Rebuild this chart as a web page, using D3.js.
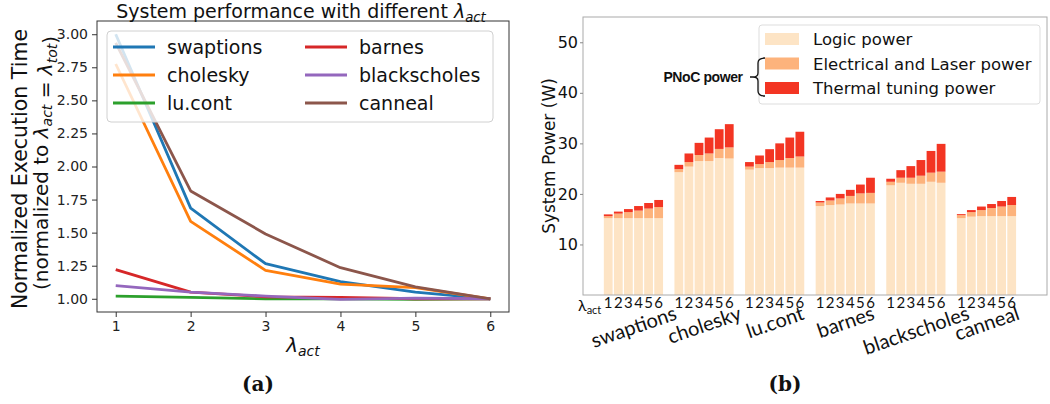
<!DOCTYPE html>
<html><head><meta charset="utf-8">
<script src="https://cdn.jsdelivr.net/npm/d3@7/dist/d3.min.js"></script>
<style>body{margin:0;background:#fff}svg{display:block}</style>
</head><body><svg id="c" width="1050" height="404"></svg>
<script>
// ---------- data: panel (a) ----------
const lambdaValues = [1, 2, 3, 4, 5, 6];
const seriesNames = ["swaptions", "cholesky", "lu.cont", "barnes", "blackscholes", "canneal"];
const swaptions    = [3.00, 1.685, 1.265, 1.13, 1.05, 1.00];
const cholesky     = [2.775, 1.585, 1.215, 1.11, 1.085, 1.00];
const luCont       = [1.02, 1.01, 1.00, 1.00, 0.995, 1.00];
const barnes       = [1.22, 1.05, 1.015, 1.01, 1.00, 1.00];
const blackscholes = [1.10, 1.05, 1.02, 0.995, 1.005, 1.00];
const canneal      = [2.935, 1.815, 1.49, 1.235, 1.09, 1.00];
const lineColors = ["#1f77b4", "#ff7f0e", "#2ca02c", "#d62728", "#9467bd", "#8c564b"];
const perfYTicks = [1.00, 1.25, 1.50, 1.75, 2.00, 2.25, 2.50, 2.75, 3.00];

// ---------- data: panel (b) ----------
const benchmarks = ["swaptions", "cholesky", "lu.cont", "barnes", "blackscholes", "canneal"];
const logicPower = [
  [15.2, 15.2, 15.2, 15.2, 15.2, 15.2],
  [24.3, 25.4, 26.5, 26.5, 27.1, 27.0],
  [24.8, 25.1, 25.1, 25.2, 25.2, 25.2],
  [17.6, 17.8, 17.9, 18.1, 18.1, 18.1],
  [21.7, 22.2, 22.0, 22.0, 22.4, 22.2],
  [15.2, 15.5, 15.6, 15.6, 15.6, 15.6]
];
const electricalPower = [
  [0.4, 0.9, 1.2, 1.5, 1.9, 2.2],
  [0.6, 0.9, 1.2, 1.5, 1.8, 2.2],
  [0.6, 0.8, 1.2, 1.5, 1.9, 2.2],
  [0.7, 0.9, 1.2, 1.5, 2.0, 2.1],
  [0.7, 1.0, 1.2, 1.6, 1.8, 2.2],
  [0.6, 0.9, 1.2, 1.6, 1.9, 2.2]
];
const thermalPower = [
  [0.35, 0.4, 0.6, 0.9, 1.1, 1.4],
  [0.85, 1.7, 2.4, 3.15, 3.9, 4.6],
  [0.9, 1.7, 2.55, 3.3, 4.05, 4.9],
  [0.3, 0.6, 0.9, 1.2, 1.75, 3.0],
  [0.6, 1.5, 2.3, 3.1, 4.3, 5.5],
  [0.2, 0.4, 0.7, 0.8, 1.1, 1.6]
];
const powerLegend = ["Logic power", "Electrical and Laser power", "Thermal tuning power"];
const powerColors = ["#fde4c5", "#fdb37c", "#f33523"];
const powerYTicks = [10, 20, 30, 40, 50];
const lambdaLabels = ["1", "2", "3", "4", "5", "6"];

const svg = d3.select("#c");
const DJ = "DejaVu Sans";

function mathLambda(t, sub, size) {
  t.append("tspan").attr("font-style", "italic").text("λ");
  t.append("tspan").attr("font-style", "italic").attr("font-size", size * 0.7)
    .attr("dy", size * 0.22).text(sub);
  t.append("tspan").attr("dy", -size * 0.22).text("");
}

// ================= Panel (a) =================
{
  const L = 97, R = 509, T = 21, B = 312;
  const x = d3.scaleLinear().domain([0.75, 6.25]).range([L, R]);
  const y = d3.scaleLinear().domain([0.9, 3.1]).range([B, T]);
  const g = svg.append("g");
  const series = [swaptions, cholesky, luCont, barnes, blackscholes, canneal];

  const line = d3.line().x((d, i) => x(lambdaValues[i])).y(d => y(d));
  series.forEach((s, i) => {
    g.append("path").datum(s).attr("d", line).attr("fill", "none")
      .attr("stroke", lineColors[i]).attr("stroke-width", 2.8)
      .attr("stroke-linejoin", "round");
  });

  g.append("rect").attr("x", L).attr("y", T).attr("width", R - L).attr("height", B - T)
    .attr("fill", "none").attr("stroke", "#333").attr("stroke-width", 1);

  const ax = g.append("g").attr("transform", `translate(0,${B})`)
    .call(d3.axisBottom(x).tickValues(lambdaValues).tickFormat(d3.format("d")).tickSize(5).tickPadding(4));
  const ay = g.append("g").attr("transform", `translate(${L},0)`)
    .call(d3.axisLeft(y).tickValues(perfYTicks).tickFormat(d3.format(".2f")).tickSize(5).tickPadding(4));
  [ax, ay].forEach(a => {
    a.select(".domain").remove();
    a.selectAll("text").attr("font-family", DJ).attr("font-size", 14).attr("fill", "#222");
    a.selectAll("line").attr("stroke", "#333");
  });

  const tt = g.append("text").attr("x", (L + R) / 2 - 2).attr("y", 17.5).attr("text-anchor", "middle")
    .attr("font-family", DJ).attr("font-size", 19).attr("fill", "#111");
  tt.append("tspan").text("System performance with different ");
  mathLambda(tt, "act", 19);

  const xl = g.append("text").attr("x", (L + R) / 2).attr("y", 352).attr("text-anchor", "middle")
    .attr("font-family", DJ).attr("font-size", 20).attr("fill", "#111");
  mathLambda(xl, "act", 20);

  g.append("text").attr("transform", `translate(27,169) rotate(-90)`).attr("text-anchor", "middle")
    .attr("font-family", DJ).attr("font-size", 20.5).attr("fill", "#111").text("Normalized Execution Time");
  const yl2 = g.append("text").attr("transform", `translate(48,163) rotate(-90)`).attr("text-anchor", "middle")
    .attr("font-family", DJ).attr("font-size", 20).attr("fill", "#111");
  yl2.append("tspan").text("(normalized to ");
  mathLambda(yl2, "act", 20);
  yl2.append("tspan").text(" = ");
  mathLambda(yl2, "tot", 20);
  yl2.append("tspan").text(")");

  const lg = g.append("g");
  lg.append("rect").attr("x", 107).attr("y", 31).attr("width", 386).attr("height", 91).attr("rx", 4)
    .attr("fill", "#fff").attr("fill-opacity", 0.8).attr("stroke", "#d0d0d0");
  seriesNames.forEach((n, i) => {
    const col = Math.floor(i / 3), row = i % 3;
    const lx = col === 0 ? 113 : 305, ly = 47 + row * 28;
    lg.append("line").attr("x1", lx).attr("x2", lx + 42).attr("y1", ly).attr("y2", ly)
      .attr("stroke", lineColors[i]).attr("stroke-width", 2.8);
    lg.append("text").attr("x", lx + 54).attr("y", ly + 6.5).attr("font-family", DJ).attr("font-size", 19)
      .attr("fill", "#111").text(n);
  });

  g.append("text").attr("x", 258).attr("y", 391).attr("text-anchor", "middle")
    .attr("font-family", "DejaVu Serif").attr("font-weight", "bold").attr("font-size", 20).attr("fill", "#111").text("(a)");
}

// ================= Panel (b) =================
{
  const L = 583, R = 1047, T = 17, B = 295;
  const x = d3.scaleLinear().domain([-2.5, 43.5]).range([L, R]);
  const y = d3.scaleLinear().domain([0, 55]).range([B, T]);
  const g = svg.append("g");

  const rows = [];
  benchmarks.forEach((b, gi) => {
    for (let k = 0; k < 6; k++) {
      rows.push({ bench: b, pos: gi * 7 + k, lam: lambdaLabels[k],
        logic: logicPower[gi][k], elec: electricalPower[gi][k], therm: thermalPower[gi][k] });
    }
  });
  const stack = d3.stack().keys(["logic", "elec", "therm"])(rows);
  const bw = 0.87;
  stack.forEach((layer, li) => {
    g.append("g").selectAll("rect").data(layer).join("rect")
      .attr("x", d => x(d.data.pos - bw / 2)).attr("width", x(bw) - x(0))
      .attr("y", d => y(d[1])).attr("height", d => y(d[0]) - y(d[1]))
      .attr("fill", powerColors[li]);
  });

  g.append("rect").attr("x", L).attr("y", T).attr("width", R - L).attr("height", B - T)
    .attr("fill", "none").attr("stroke", "#aaa").attr("stroke-width", 1);

  const ay = g.append("g").attr("transform", `translate(${L},0)`)
    .call(d3.axisLeft(y).tickValues(powerYTicks).tickSize(3).tickPadding(2));
  ay.select(".domain").remove();
  ay.selectAll("text").attr("font-family", DJ).attr("font-size", 16).attr("fill", "#111");
  ay.selectAll("line").attr("stroke", "#888");

  g.append("text").attr("transform", `translate(555,156) rotate(-90)`).attr("text-anchor", "middle")
    .attr("font-family", DJ).attr("font-size", 17).attr("fill", "#111").text("System Power (W)");

  g.append("g").selectAll("text").data(rows).join("text")
    .attr("x", d => x(d.pos)).attr("y", 308).attr("text-anchor", "middle")
    .attr("font-family", "Lato").attr("font-size", 15).attr("fill", "#111").text(d => d.lam);
  const la = g.append("text").attr("x", 578).attr("y", 311).attr("font-family", "Lato")
    .attr("font-size", 16).attr("fill", "#111");
  la.append("tspan").text("λ");
  la.append("tspan").attr("font-size", 11).attr("dy", 3).text("act");

  benchmarks.forEach((b, gi) => {
    const cx = x(gi * 7 + 2.5);
    const t = g.append("text").attr("text-anchor", "middle").attr("font-family", "Lato")
      .attr("font-size", 20).attr("fill", "#111").attr("dominant-baseline", "central").text(b);
    const w = t.node().getComputedTextLength();
    const h = 20, a = 19 * Math.PI / 180;
    const bh = w * Math.sin(a) + h * Math.cos(a);
    const cyy = 302 + bh / 2;
    t.attr("transform", `translate(${cx},${cyy}) rotate(-19)`);
  });

  const lg = g.append("g");
  lg.append("rect").attr("x", 759).attr("y", 25).attr("width", 281).attr("height", 79).attr("rx", 3)
    .attr("fill", "#fff").attr("fill-opacity", 0.8).attr("stroke", "#ddd");
  powerLegend.forEach((n, i) => {
    const ly = 39 + i * 24.5;
    lg.append("rect").attr("x", 765).attr("y", ly - 6).attr("width", 34).attr("height", 12).attr("fill", powerColors[i]);
    lg.append("text").attr("x", 813).attr("y", ly + 6).attr("font-family", DJ).attr("font-size", 16.5)
      .attr("fill", "#111").text(n);
  });
  g.append("text").attr("x", 703).attr("y", 82).attr("text-anchor", "middle")
    .attr("font-family", "Liberation Sans").attr("font-weight", "bold").attr("font-size", 14)
    .attr("letter-spacing", -0.4).attr("fill", "#111").text("PNoC power");
  g.append("path").attr("d", "M765,58 Q758,58 758,63 L758,73 Q758,77 753,77 Q758,77 758,81 L758,91 Q758,96 765,96 M750,77 L753,77")
    .attr("fill", "none").attr("stroke", "#111").attr("stroke-width", 1.3);

  g.append("text").attr("x", 785).attr("y", 391).attr("text-anchor", "middle")
    .attr("font-family", "DejaVu Serif").attr("font-weight", "bold").attr("font-size", 20).attr("fill", "#111").text("(b)");
}
</script></body></html>
